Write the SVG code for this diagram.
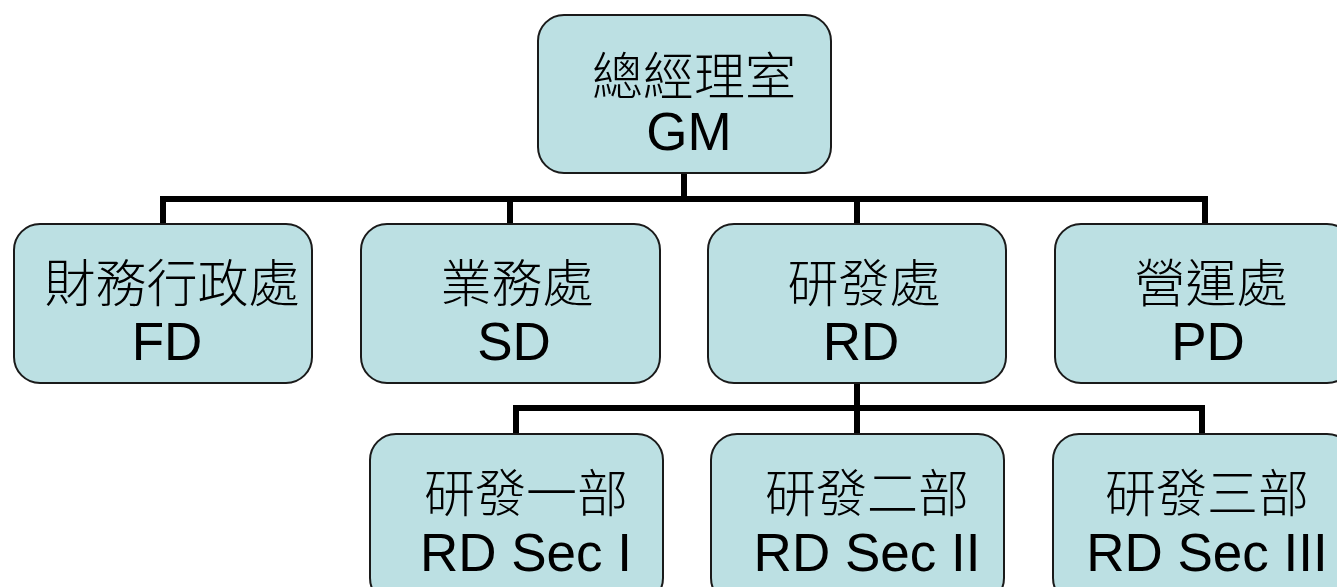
<svg xmlns="http://www.w3.org/2000/svg" width="1337" height="587" viewBox="0 0 1337 587">
<style>
.box{fill:#bce0e3;stroke:#1a1a1a;stroke-width:2}
.cj{font-family:"Noto Sans CJK TC","Noto Sans CJK SC",sans-serif;font-size:51px;font-weight:300;fill:#000;text-anchor:middle}
.en{font-family:"Liberation Sans",Arial,sans-serif;font-size:53px;fill:#000;text-anchor:middle}
.ln{fill:none;stroke:#000;stroke-width:6;stroke-linejoin:miter;stroke-linecap:butt}
</style>
<rect width="1337" height="587" fill="#fff"/>
<g id="connectors">
<path class="ln" d="M684 173V199M163 224V199H1205V224M510 199V224M857 199V224"/>
<path class="ln" d="M857 383V408M516 434V408H1202V434M857 408V434"/>
</g>
<g id="gm"><rect class="box" x="538" y="15" width="293" height="158" rx="26"/><text class="cj" x="694" y="95">總經理室</text><text class="en" x="689" y="150">GM</text></g>
<g id="fd"><rect class="box" x="14" y="224" width="298" height="159" rx="26"/><text class="cj" x="172" y="302">財務行政處</text><text class="en" x="167" y="360">FD</text></g>
<g id="sd"><rect class="box" x="361" y="224" width="299" height="159" rx="26"/><text class="cj" x="517" y="302">業務處</text><text class="en" x="514" y="360">SD</text></g>
<g id="rd"><rect class="box" x="708" y="224" width="298" height="159" rx="26"/><text class="cj" x="864" y="302">研發處</text><text class="en" x="861" y="360">RD</text></g>
<g id="pd"><rect class="box" x="1055" y="224" width="298" height="159" rx="26"/><text class="cj" x="1211" y="302">營運處</text><text class="en" x="1208" y="360">PD</text></g>
<g id="rd1"><rect class="box" x="370" y="434" width="293" height="170" rx="26"/><text class="cj" x="526" y="512">研發一部</text><text class="en" x="526" y="571">RD Sec I</text></g>
<g id="rd2"><rect class="box" x="711" y="434" width="293" height="170" rx="26"/><text class="cj" x="867" y="512">研發二部</text><text class="en" x="867" y="571">RD Sec II</text></g>
<g id="rd3"><rect class="box" x="1053" y="434" width="300" height="170" rx="26"/><text class="cj" x="1207" y="512">研發三部</text><text class="en" x="1207" y="571">RD Sec III</text></g>
</svg>
